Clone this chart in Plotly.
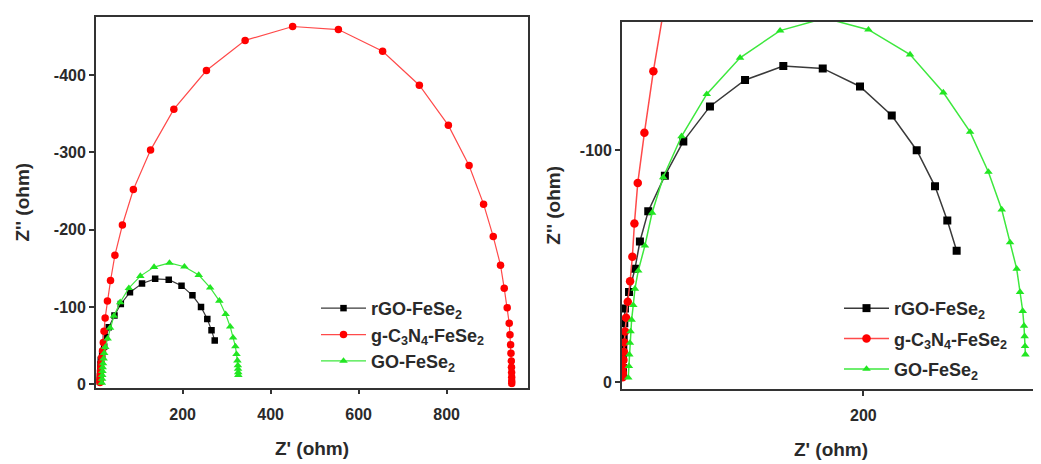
import plotly.graph_objects as go

W, H = 1041, 464

# ---- data (Z' in ohm, Z'' in ohm) ----
rgo_x = [12.1, 12.2, 12.3, 12.5, 12.8, 13.3, 13.8, 17.0, 21.6, 25.5, 32.0, 45.0, 59.4,
         80.2, 107.6, 137.5, 168.3, 197.4, 222.2, 241.7, 256.0, 265.6, 272.9]
rgo_y = [-3.0, -6.0, -10.0, -15.0, -19.6, -25.3, -31.7, -38.8, -48.8, -60.6, -73.7, -89.0, -103.8,
         -118.9, -130.3, -136.3, -135.3, -127.5, -115.0, -100.0, -84.4, -69.7, -56.6]

gcn_x = [12.0, 12.1, 12.3, 12.6, 12.9, 13.3, 13.9, 14.7, 16.0, 17.8, 19.6, 21.2, 23.8, 29.0,
         36.0, 46.0, 63.0, 88.0, 127.0, 180.0, 254.0, 342.0, 450.0, 554.0, 654.5, 738.0,
         804.0, 851.0, 884.0, 906.0, 922.5, 931.0, 937.7, 942.3, 944.0, 945.5, 946.3, 947.0,
         947.4, 947.7, 947.9, 948.0, 948.0]
gcn_y = [-2.0, -4.0, -6.5, -9.5, -13.0, -17.0, -21.8, -27.7, -34.6, -43.4, -54.0, -68.4, -85.8,
         -107.5, -134.1, -167.0, -206.0, -252.0, -303.0, -356.0, -406.0, -445.0, -463.0, -459.0,
         -431.0, -387.0, -335.0, -283.0, -233.0, -191.0, -154.0, -124.0, -99.0, -79.0, -64.0,
         -51.0, -40.0, -30.0, -22.0, -15.0, -9.0, -4.0, -1.0]

go_x = [16.4, 16.9, 17.2, 17.7, 18.2, 19.0, 20.3, 21.6, 24.2, 29.4, 35.0, 43.7, 58.0, 77.7,
        103.7, 135.0, 170.0, 204.0, 236.5, 262.5, 283.4, 297.7, 308.1, 314.6, 319.8, 322.4,
        324.5, 325.5, 326.0, 326.3, 326.6]
go_y = [-1.8, -6.8, -11.8, -16.8, -21.8, -26.8, -33.1, -40.2, -48.0, -58.8, -73.0, -88.3,
        -106.0, -124.2, -139.9, -151.6, -157.0, -152.0, -141.3, -124.9, -107.9, -90.6, -74.4,
        -60.2, -48.8, -38.8, -30.6, -24.2, -19.7, -15.4, -11.8]

names = ["rGO-FeSe<sub>2</sub>", "g-C<sub>3</sub>N<sub>4</sub>-FeSe<sub>2</sub>", "GO-FeSe<sub>2</sub>"]

left_y_ticks = [0, -100, -200, -300, -400]
left_y_text = ["0", "-100", "-200", "-300", "-400"]
left_x_ticks = [200, 400, 600, 800]
right_y_ticks = [0, -100]
right_y_text = ["0", "-100"]
right_x_ticks = [200]

FONT = "Liberation Sans, Arial, sans-serif"
TXT = "#2a2a2a"

# page body has an 8px default margin; layout is expressed in screen pixels
OX, OY = 8, 8

series = [
    (rgo_x, rgo_y, names[0], "#000000", "#3a3a3a", "square", (6.5, 8)),
    (gcn_x, gcn_y, names[1], "#ff0000", "#ff4a4a", "circle", (7.5, 8.5)),
    (go_x, go_y, names[2], "#22e622", "#3ee83e", "triangle-up", (7.5, 7.5)),
]

fig = go.Figure()
for panel, (xa, ya, leg) in enumerate([("x", "y", "legend"), ("x2", "y2", "legend2")]):
    for i, (xs, ys, nm, mc, lc, sym, ms) in enumerate(series):
        fig.add_trace(go.Scatter(
            x=xs, y=ys, name=nm, mode="lines+markers",
            xaxis=xa, yaxis=ya, legend=leg, legendgroup=f"{panel}-{i}",
            line=dict(color=lc, width=1.2 if panel == 0 else 1.5),
            marker=dict(color=mc, symbol=sym, size=ms[panel], line=dict(width=0)),
        ))

def px_x(p):
    return (p - OX) / W

def px_y(p):
    return 1 - (p - OY) / H

axis_common = dict(
    showline=True, mirror=True, linecolor="#333333", linewidth=1.8,
    ticks="outside", ticklen=5, tickwidth=1.5, tickcolor="#333333",
    showgrid=False, zeroline=False,
    tickfont=dict(family=FONT, size=16, color=TXT, weight="bold"),
    title_font=dict(family=FONT, size=19, color=TXT, weight="bold"),
)

fig.update_layout(
    width=W, height=H,
    margin=dict(l=0, r=0, t=0, b=0),
    paper_bgcolor="white", plot_bgcolor="white",
    showlegend=True,
    xaxis=dict(domain=[px_x(96), px_x(528)], range=[3, 985], anchor="y",
               tickvals=left_x_ticks, ticklabelstandoff=6,
               title=dict(text="Z' (ohm)", standoff=20), **axis_common),
    yaxis=dict(domain=[px_y(391.7), px_y(17)], range=[4.4, -475.4], anchor="x",
               tickvals=left_y_ticks, ticktext=left_y_text,
               title=dict(text="Z'' (ohm)", standoff=19), **axis_common),
    xaxis2=dict(domain=[px_x(622), px_x(1040)], range=[11.5, 338], anchor="y2",
                tickvals=right_x_ticks, ticklabelstandoff=6,
                title=dict(text="Z' (ohm)", standoff=20), **axis_common),
    yaxis2=dict(domain=[px_y(393), px_y(22)], range=[3, -155.4], anchor="x2",
                tickvals=right_y_ticks, ticktext=right_y_text,
                title=dict(text="Z'' (ohm)", standoff=14), **axis_common),
    legend=dict(x=px_x(316), y=px_y(293), xanchor="left", yanchor="top",
                bgcolor="rgba(0,0,0,0)", traceorder="grouped", tracegroupgap=0,
                itemwidth=45,
                font=dict(family=FONT, size=18, color=TXT, weight="bold")),
    legend2=dict(x=px_x(839), y=px_y(293), xanchor="left", yanchor="top",
                 bgcolor="rgba(0,0,0,0)", traceorder="grouped", tracegroupgap=4,
                 itemwidth=45,
                 font=dict(family=FONT, size=18, color=TXT, weight="bold")),
)

fig.write_html("out.html")
